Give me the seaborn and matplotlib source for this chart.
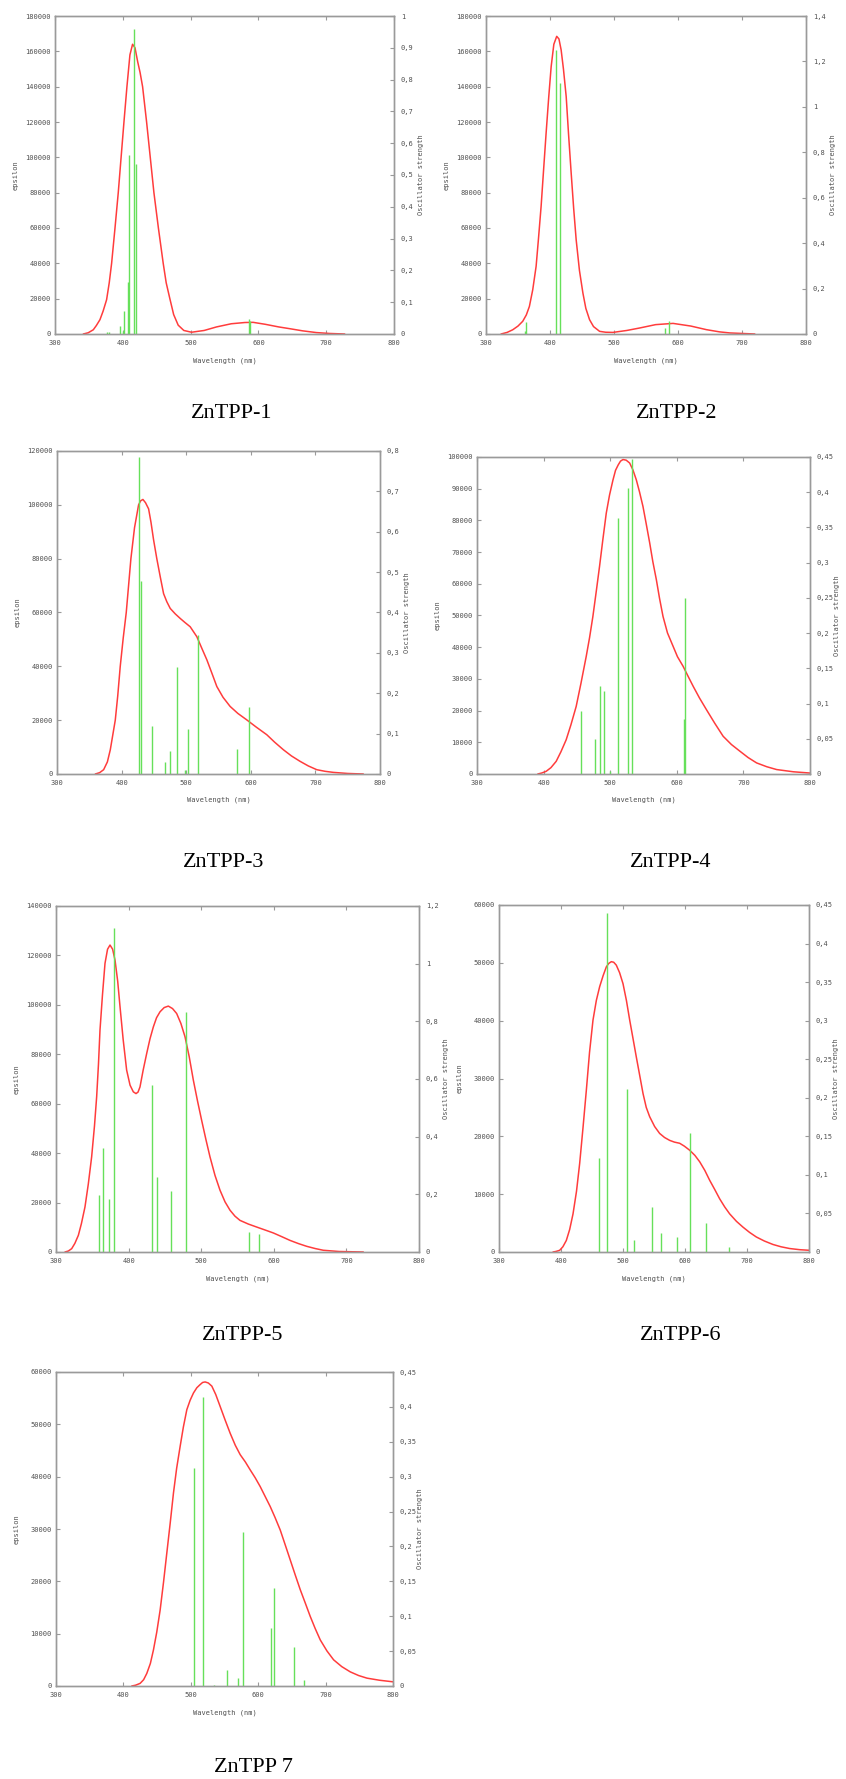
import matplotlib
matplotlib.use("Agg")
import matplotlib.pyplot as plt
import seaborn as sns
import pandas as pd
from matplotlib.ticker import FuncFormatter, MultipleLocator

# ---------------- data ----------------
panel_names = ["ZnTPP-1", "ZnTPP-2", "ZnTPP-3", "ZnTPP-4", "ZnTPP-5", "ZnTPP-6", "ZnTPP 7"]

curve1_wl = [341.7, 349, 356.5, 361, 366.3, 371, 376.1, 380, 383.5, 388.5, 393.3, 397.5, 401.7, 406.1, 410.5,
             414.4, 418, 422, 425.5, 429.2, 435.1, 440.5, 445.9, 452.5, 459.6, 464, 469.4, 475, 481.7, 490, 501.4,
             520, 538.2, 560, 580, 592.2, 610, 630, 646.3, 665, 685.6, 705, 727.3]
curve1_eps = [0, 700, 2400, 4800, 8100, 13000, 19400, 29000, 40000, 60000, 80000, 100000, 120000, 140000, 158000,
              164000, 162000, 154000, 148000, 140000, 120000, 100000, 80000, 60000, 40000, 29000, 20000, 11000,
              5000, 2000, 1000, 2000, 4000, 5800, 6500, 6600, 5500, 4000, 3000, 1800, 800, 300, 0]
sticks1_wl = [376, 380, 395.8, 400.7, 401.7, 407.6, 409.5, 415.9, 419.4, 586.3, 588.3]
sticks1_f = [0.005, 0.005, 0.024, 0.01, 0.071, 0.165, 0.563, 0.958, 0.534, 0.047, 0.04]

curve2_wl = [323.5, 333, 341.8, 350, 357.4, 363, 367.8, 373, 378.3, 382, 386.1, 390, 393.9, 398, 401.8, 406,
             410.5, 414, 417.4, 421, 425.3, 429, 433.1, 437, 440.9, 446, 451.4, 456, 461.8, 468, 477.5, 487,
             498.3, 520, 540.1, 565, 592.3, 620, 644.5, 665, 681, 720]
curve2_eps = [0, 900, 2400, 4500, 7200, 10800, 15600, 25000, 38300, 54000, 72200, 93000, 113600, 134000,
              151300, 164000, 168500, 167000, 160800, 150000, 134400, 113000, 91000, 71000, 53300, 36000, 23200,
              14500, 8100, 4200, 1500, 1000, 900, 2000, 3400, 5300, 6000, 4500, 2450, 1200, 600, 0]
sticks2_wl = [360.5, 362.5, 408.6, 416.4, 579.7, 585.5]
sticks2_f = [0.012, 0.055, 1.25, 1.107, 0.026, 0.056]

curve3_wl = [359.3, 366, 372.2, 378, 382.5, 386, 390.2, 394, 397.9, 402.5, 407.2, 410.8, 414.4, 420, 426.3,
             429.5, 433, 437, 441.8, 445.5, 449.5, 454.5, 459.8, 465, 470, 475.3, 483, 490.7, 498, 506.2, 516.5,
             524, 532, 540, 547.4, 557, 568, 580, 593.8, 608, 624.7, 637, 650.5, 663, 676.3, 689, 702.1, 715,
             727.8, 750, 774.2]
curve3_eps = [0, 500, 1600, 4500, 9000, 14000, 20000, 29000, 40000, 50500, 60000, 70000, 80000, 91500, 100000,
              101500, 102000, 100800, 98500, 93500, 87000, 80000, 73300, 67000, 64000, 61500, 59500, 57800, 56300,
              54700, 51000, 46800, 42400, 37300, 32500, 28500, 25100, 22500, 20100, 17500, 14600, 11800, 9000,
              6700, 4700, 3000, 1600, 1000, 600, 200, 0]
sticks3_wl = [426.8, 429.9, 446.9, 466.5, 474.7, 485.6, 498.9, 503.1, 518, 578.4, 596.9]
sticks3_f = [0.784, 0.479, 0.12, 0.03, 0.056, 0.264, 0.01, 0.111, 0.345, 0.062, 0.166]

curve4_wl = [391.3, 397, 403.8, 411, 418.9, 426, 433.9, 441, 448.9, 456, 464, 469, 474, 479, 484, 489, 494.1,
             499, 504.1, 508, 512, 515.5, 519.2, 524, 529.2, 534, 539.2, 544, 549.2, 554, 559.3, 564, 569.3,
             574, 579.3, 586, 594.4, 601, 609.4, 617, 624.5, 634, 644.5, 657, 669.6, 682, 694.7, 707, 719.8,
             735, 749.9, 775, 800]
curve4_eps = [0, 300, 840, 2000, 4000, 7000, 10800, 15500, 21300, 28500, 37100, 43000, 49700, 57500, 65500,
              74000, 82300, 88000, 92700, 95800, 97500, 98700, 99200, 99000, 98100, 96000, 92800, 89000, 84400,
              79000, 72900, 67000, 61300, 55500, 49700, 44500, 40300, 37000, 34000, 30800, 27700, 24000, 20300,
              16000, 11900, 9300, 7200, 5200, 3500, 2300, 1400, 700, 300]
sticks4_wl = [456, 477.5, 485, 491.1, 499.6, 511.6, 527.2, 533.2, 610.9, 612.9]
sticks4_f = [0.09, 0.05, 0.125, 0.118, 0.004, 0.363, 0.406, 0.447, 0.078, 0.25]

curve5_wl = [312.4, 317, 321.6, 326, 330.8, 335, 339.9, 344.5, 349.1, 353, 356, 358.5, 360.6, 364, 367.5, 371,
             374.4, 378, 381.3, 385, 388.2, 392.5, 397.3, 402, 406.5, 410.2, 413, 415.7, 420, 424.9, 429.5,
             434.1, 438.5, 443.3, 449, 454.7, 460.5, 466.2, 472, 477.7, 483.5, 489.2, 495, 500.6, 506.5, 512.1,
             519, 525.9, 532.8, 539.7, 546.5, 553.4, 565, 576.4, 588, 599.4, 611, 622.3, 634, 645.3, 657, 668.2,
             690, 723.3]
curve5_eps = [0, 400, 1350, 3500, 6750, 11500, 18200, 27500, 38500, 51000, 62800, 76000, 89800, 104000, 116800,
              122500, 124200, 122500, 118100, 109500, 99200, 86000, 73600, 67500, 64800, 64100, 64700, 66800,
              73500, 80300, 86300, 91100, 94800, 97200, 98900, 99500, 98500, 96500, 92500, 87100, 79000, 69500,
              61000, 53300, 45500, 38500, 31000, 25000, 20300, 16900, 14500, 12800, 11300, 10100, 8900, 7700,
              6200, 4700, 3400, 2300, 1400, 700, 200, 0]
sticks5_wl = [359.2, 364.3, 372.5, 379.4, 431.8, 438.7, 458.9, 478.6, 565.8, 580.1]
sticks5_f = [0.197, 0.361, 0.185, 1.123, 0.579, 0.26, 0.211, 0.833, 0.069, 0.061]

curve6_wl = [387.1, 392, 397.8, 403, 408.6, 414, 419.4, 425, 430.1, 435.5, 440.9, 446, 451.6, 457, 462.4, 468,
             473.1, 477, 481.2, 485, 489.2, 494.5, 500, 505.5, 510.8, 516, 521.5, 527, 532.3, 537.5, 543, 551,
             559.1, 567, 575.3, 583, 591.4, 599, 607.5, 616, 623.7, 632, 639.8, 648, 655.9, 664, 672, 683,
             693.5, 704, 715, 728, 741.9, 755, 768.8, 785, 800]
curve6_eps = [0, 100, 290, 900, 2000, 3900, 6600, 10500, 15300, 21500, 28000, 34500, 40100, 43500, 45900,
              47800, 49300, 49900, 50200, 50100, 49600, 48300, 46400, 43500, 40100, 37000, 33700, 30500, 27400,
              25000, 23400, 21700, 20500, 19800, 19300, 19000, 18800, 18300, 17600, 16700, 15600, 14100, 12400,
              10800, 9200, 7800, 6600, 5300, 4300, 3400, 2600, 1900, 1300, 900, 600, 400, 300]
sticks6_wl = [461.8, 474.2, 507, 517.2, 546.2, 560.8, 587.6, 608.1, 633.3, 671.5]
sticks6_f = [0.122, 0.439, 0.211, 0.016, 0.058, 0.024, 0.019, 0.154, 0.038, 0.006]

curve7_wl = [412.4, 418, 424.8, 430, 434.7, 440, 444.6, 449.5, 454.5, 459.5, 464.4, 469.5, 474.3, 479, 484.2,
             489, 494.1, 499, 504, 509, 513.9, 517.5, 521.3, 526, 531.2, 537, 543.6, 551, 558.4, 566, 573.3,
             581, 588.1, 595.5, 603, 610, 617.8, 625, 632.7, 640, 647.5, 655, 662.4, 670, 677.2, 684.5, 692.1,
             702, 711.9, 724, 736.6, 749, 761.4, 780, 800]
curve7_eps = [0, 150, 500, 1200, 2400, 4300, 6900, 10300, 14500, 19800, 25400, 31200, 36900, 41600, 45800,
              49500, 52800, 54600, 56000, 57000, 57600, 58000, 58100, 57900, 57300, 55700, 53400, 50800, 48300,
              46000, 44200, 42800, 41300, 39800, 38100, 36300, 34300, 32200, 29800, 27000, 24100, 21200, 18400,
              15800, 13300, 11000, 8800, 6700, 5000, 3700, 2700, 2000, 1500, 1100, 800]
sticks7_wl = [505, 518.8, 535.1, 554, 569.8, 577.7, 618.8, 622.8, 652.5, 668.3]
sticks7_f = [0.313, 0.414, 0.002, 0.023, 0.012, 0.22, 0.083, 0.141, 0.056, 0.008]

eps_max = [180000, 180000, 120000, 100000, 140000, 60000, 60000]
eps_step = [20000, 20000, 20000, 10000, 20000, 10000, 10000]
f_max = [1.0, 1.4, 0.8, 0.45, 1.2, 0.45, 0.45]
f_step = [0.1, 0.2, 0.1, 0.05, 0.2, 0.05, 0.05]

curves = [(curve1_wl, curve1_eps), (curve2_wl, curve2_eps), (curve3_wl, curve3_eps), (curve4_wl, curve4_eps),
          (curve5_wl, curve5_eps), (curve6_wl, curve6_eps), (curve7_wl, curve7_eps)]
sticks = [(sticks1_wl, sticks1_f), (sticks2_wl, sticks2_f), (sticks3_wl, sticks3_f), (sticks4_wl, sticks4_f),
          (sticks5_wl, sticks5_f), (sticks6_wl, sticks6_f), (sticks7_wl, sticks7_f)]

# ---------------- layout (pixels: left, right, top, bottom) ----------------
W, H = 846, 1779
boxes = [(55, 394, 16, 334), (486, 806, 16, 334),
         (57, 380, 451, 774), (477, 810, 457, 774),
         (56, 419, 906, 1252), (499, 809, 905, 1252),
         (56, 393, 1372, 1686)]
captions = [(232, 413), (677, 413), (224, 863), (671, 863), (243, 1335), (681, 1335), (253, 1767)]

sns.set_style("white")
plt.rcParams['font.family'] = ['DejaVu Sans Mono']

fig = plt.figure(figsize=(W / 100, H / 100), dpi=100)

FRAME = '#9a9a9a'
TXT = '#505050'
RED = '#ff3c3c'
GREEN = '#66e05a'


def comma_fmt(v, _):
    s = ('%.2f' % v).rstrip('0').rstrip('.')
    return s.replace('.', ',')


for i in range(7):
    l, r, t, b = boxes[i]
    wpx, hpx = r - l, b - t
    ax = fig.add_axes([l / W, 1 - b / H, wpx / W, hpx / H])
    ax2 = ax.twinx()

    df = pd.DataFrame({"wl": curves[i][0], "eps": curves[i][1]})
    sns.lineplot(data=df, x="wl", y="eps", ax=ax, color=RED, lw=1.1, estimator=None, sort=True)
    ax2.vlines(sticks[i][0], 0, sticks[i][1], color=GREEN, lw=1.0)

    ax.set_xlim(300, 800)
    ax.set_ylim(0, eps_max[i])
    ax2.set_ylim(0, f_max[i])
    ax.xaxis.set_major_locator(MultipleLocator(100))
    ax.yaxis.set_major_locator(MultipleLocator(eps_step[i]))
    ax2.yaxis.set_major_locator(MultipleLocator(f_step[i]))
    ax.yaxis.set_major_formatter(FuncFormatter(lambda v, _: '%d' % round(v)))
    ax2.yaxis.set_major_formatter(FuncFormatter(comma_fmt))

    for a in (ax, ax2):
        for sp in a.spines.values():
            sp.set_color(FRAME)
            sp.set_linewidth(1.0)
            sp.set_visible(True)
    ax.tick_params(axis='x', direction='in', length=3, width=0.8, color=FRAME, top=True, bottom=True,
                   labelsize=5, labelcolor=TXT, pad=4)
    ax.tick_params(axis='y', direction='in', length=3, width=0.8, color=FRAME, left=True, right=False,
                   labelsize=5, labelcolor=TXT, pad=3)
    ax2.tick_params(axis='y', direction='in', length=3, width=0.8, color=FRAME, right=True, left=False,
                    labelsize=5, labelcolor=TXT, pad=5)

    ax.set_xlabel("Wavelength (nm)", fontsize=5, color=TXT)
    ax.set_ylabel("epsilon", fontsize=5, color=TXT)
    ax2.set_ylabel("Oscillator strength", fontsize=5, color=TXT)
    ax.xaxis.set_label_coords(0.5, -23 / hpx)
    ax.yaxis.set_label_coords(-36 / wpx, 0.5)
    ax2.yaxis.set_label_coords(1 + 24 / wpx, 0.5)
    ax.grid(False)
    ax2.grid(False)

    cx, cy = captions[i]
    fig.text(cx / W, 1 - cy / H, panel_names[i], ha='center', va='center', fontsize=16,
             family=['Liberation Serif'], color='black')

fig.savefig("out.png", dpi=100, facecolor='white')
